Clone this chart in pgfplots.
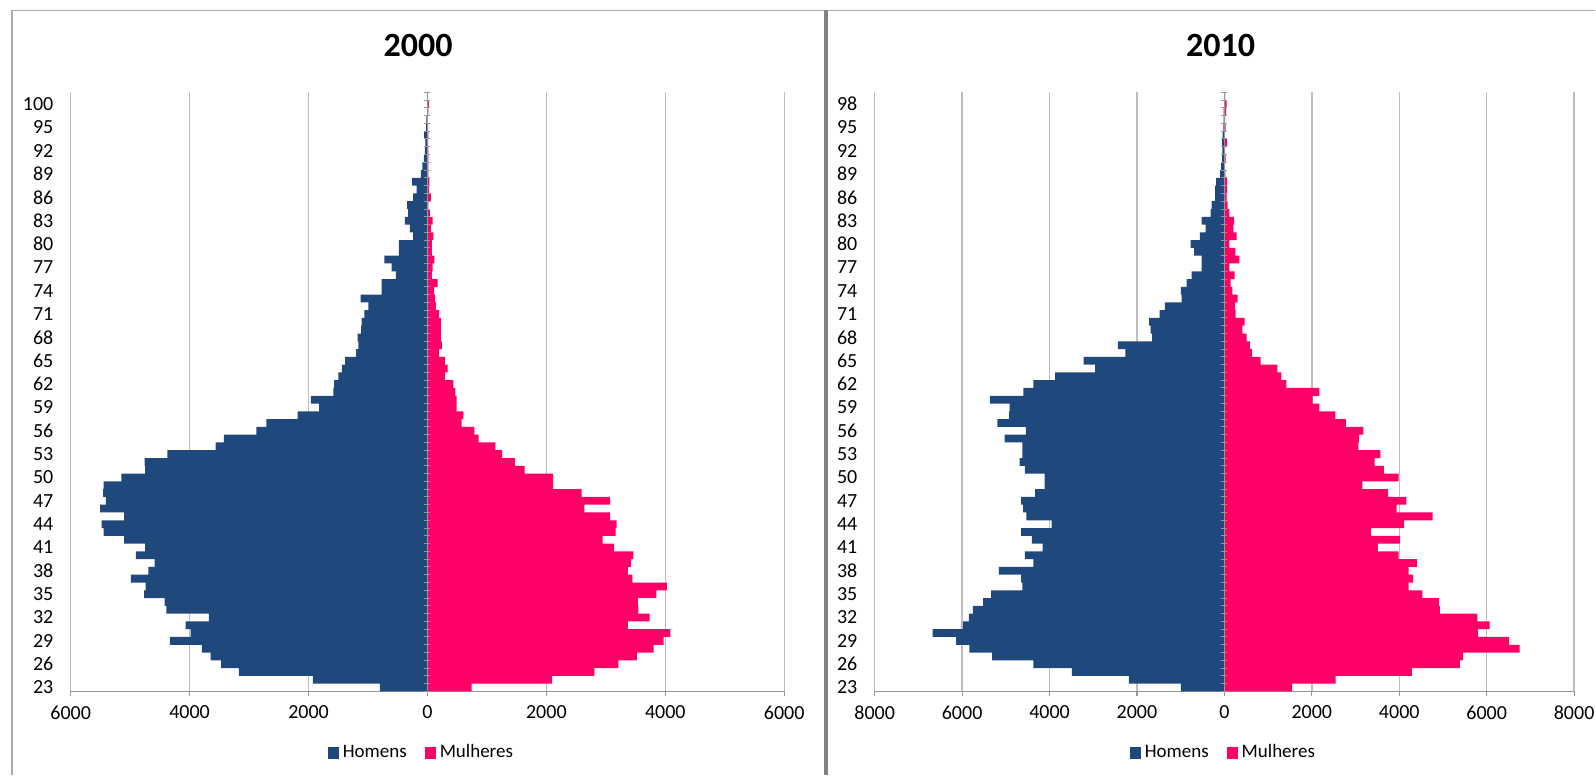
\documentclass[border=0pt]{standalone}
\usepackage{pgfplots}
\usepackage{pgfplotstable}
\pgfplotsset{compat=1.18}
\usepackage{fontspec}
\setmainfont{Carlito}
\definecolor{menblue}{RGB}{31,73,125}
\definecolor{wpink}{RGB}{255,0,102}
\definecolor{gridgray}{RGB}{190,190,190}
\definecolor{axisgray}{RGB}{150,150,150}
\definecolor{framegray}{RGB}{170,170,170}
\definecolor{divgray}{RGB}{130,130,130}

\pgfplotstableread{
k m w
0 -799 744
1 -1927 2096
2 -3173 2806
3 -3469 3211
4 -3648 3521
5 -3793 3803
6 -4330 3972
7 -3983 4085
8 -4067 3369
9 -3676 3735
10 -4391 3549
11 -4419 3538
12 -4766 3848
13 -4738 4028
14 -4989 3448
15 -4693 3369
16 -4587 3425
17 -4905 3465
18 -4749 3138
19 -5101 2947
20 -5447 3166
21 -5481 3183
22 -5101 3070
23 -5503 2637
24 -5408 3070
25 -5453 2592
26 -5447 2113
27 -5146 2113
28 -4749 1634
29 -4755 1470
30 -4375 1256
31 -3564 1144
32 -3425 862
33 -2877 789
34 -2710 575
35 -2185 603
36 -1821 490
37 -1961 490
38 -1581 468
39 -1570 434
40 -1497 299
41 -1441 338
42 -1386 293
43 -1201 197
44 -1162 242
45 -1173 225
46 -1117 225
47 -1106 225
48 -1061 197
49 -994 141
50 -1123 130
51 -771 113
52 -771 169
53 -531 73
54 -603 85
55 -726 118
56 -480 73
57 -480 73
58 -240 101
59 -296 56
60 -380 85
61 -324 39
62 -341 17
63 -240 56
64 -184 28
65 -257 34
66 -112 17
67 -84 17
68 -61 17
69 -45 17
70 -34 11
71 -56 17
72 -22 11
73 -17 6
74 -6 17
75 -3 22
76 0 3
}\tabA

\pgfplotstableread{
k m w
0 -996 1547
1 -2184 2543
2 -3487 4288
3 -4368 5387
4 -5311 5463
5 -5832 6755
6 -6138 6513
7 -6675 5802
8 -5985 6067
9 -5847 5787
10 -5755 4928
11 -5517 4905
12 -5334 4526
13 -4621 4214
14 -4651 4315
15 -5157 4214
16 -4368 4404
17 -4567 3985
18 -4161 3510
19 -4406 4022
20 -4651 3355
21 -3954 4112
22 -4529 4761
23 -4605 3939
24 -4651 4165
25 -4330 3744
26 -4115 3155
27 -4115 3985
28 -4567 3646
29 -4682 3434
30 -4621 3570
31 -4621 3064
32 -5027 3079
33 -4544 3177
34 -5196 2777
35 -4927 2536
36 -4912 2170
37 -5364 2019
38 -4598 2170
39 -4368 1415
40 -3870 1302
41 -2958 1211
42 -3218 826
43 -2268 636
44 -2437 583
45 -1655 508
46 -1686 410
47 -1724 462
48 -1479 258
49 -1364 243
50 -981 303
51 -996 182
52 -866 144
53 -751 235
54 -521 114
55 -521 341
56 -690 250
57 -774 114
58 -559 280
59 -429 205
60 -521 220
61 -314 114
62 -291 76
63 -215 53
64 -215 61
65 -192 61
66 -100 23
67 -77 0
68 -54 30
69 -46 15
70 -54 61
71 -38 8
72 -23 30
73 -15 15
74 -15 38
75 -8 53
76 -8 15
}\tabB

\pgfplotsset{
  pyr/.style={
    scale only axis,
    anchor=south west,
    height=299.7pt,
    ymin=-0.5, ymax=76.5,
    axis x line=bottom, axis y line=left,
    x axis line style={-, draw=axisgray, line width=0.6pt},
    y axis line style={draw=none},
    ytick={0,3,...,75},
    ytick style={draw=none},
    xtick style={draw=axisgray, line width=0.6pt},
    tick align=outside, major tick length=2.5pt,
    xmajorgrids, grid style={gridgray, line width=0.7pt},
    xbar, bar width=1,
    /pgf/number format/assume math mode=true,
    tick label style={font=\fontsize{10}{12}\selectfont, inner sep=0pt},
    xticklabel shift=4.5pt,
    yticklabel shift=6pt,
    title style={font=\fontsize{17}{20}\selectfont\bfseries, anchor=center, yshift=17.3pt},
    legend columns=2,
    legend style={draw=none, fill=none, font=\fontsize{9.5}{11}\selectfont, anchor=center,
      /tikz/every even column/.append style={column sep=7pt}},
    legend image code/.code={\path[##1] (0pt,-3pt) rectangle (5.5pt,3pt);},
  },
  ovl/.style={
    scale only axis,
    anchor=south west,
    height=299.7pt,
    ymin=-0.5, ymax=76.5,
    axis x line=none, axis y line=middle,
    y axis line style={-, draw=axisgray, line width=0.6pt},
    ytick={-0.5,0.5,...,76.5},
    yticklabels={},
    xtick=\empty,
    ytick style={draw=axisgray, line width=0.5pt},
    tick align=center, major tick length=3pt,
  }
}

\begin{document}
\begin{tikzpicture}
\path[fill=white] (0pt,0pt) rectangle (798pt,387.5pt);
\draw[framegray, line width=0.6pt] (6pt,382.25pt) -- (798pt,382.25pt);
\draw[framegray, line width=0.8pt] (6pt,382.25pt) -- (6pt,0pt);
\draw[divgray, line width=2pt] (413.3pt,382.25pt) -- (413.3pt,0pt);

\begin{axis}[pyr,
  at={(35.35pt,41.65pt)}, width=356.9pt,
  xmin=-6000, xmax=6000,
  xtick={-6000,-4000,...,6000},
  xticklabels={6000,4000,2000,0,2000,4000,6000},
  yticklabels={23,26,29,32,35,38,41,44,47,50,53,56,59,62,65,68,71,74,77,80,83,86,89,92,95,100},
  title={2000}, title style={at={(0.487,1)}},
  legend style={at={(0.493,-0.1023)}},
]
\addplot[fill=menblue, draw=none, bar shift=0pt] table[x=m, y=k] {\tabA};
\addlegendentry{Homens}
\addplot[fill=wpink, draw=none, bar shift=0pt] table[x=w, y=k] {\tabA};
\addlegendentry{Mulheres}
\end{axis}
\begin{axis}[ovl, at={(35.35pt,41.65pt)}, width=356.9pt, xmin=-6000, xmax=6000]
\end{axis}

\begin{axis}[pyr,
  at={(437.5pt,41.65pt)}, width=349.85pt,
  xmin=-8000, xmax=8000,
  xtick={-8000,-6000,...,8000},
  xticklabels={8000,6000,4000,2000,0,2000,4000,6000,8000},
  yticklabels={23,26,29,32,35,38,41,44,47,50,53,56,59,62,65,68,71,74,77,80,83,86,89,92,95,98},
  title={2010}, title style={at={(0.4945,1)}},
  legend style={at={(0.5,-0.1023)}},
]
\addplot[fill=menblue, draw=none, bar shift=0pt] table[x=m, y=k] {\tabB};
\addlegendentry{Homens}
\addplot[fill=wpink, draw=none, bar shift=0pt] table[x=w, y=k] {\tabB};
\addlegendentry{Mulheres}
\end{axis}
\begin{axis}[ovl, at={(437.5pt,41.65pt)}, width=349.85pt, xmin=-8000, xmax=8000]
\end{axis}
\end{tikzpicture}
\end{document}
